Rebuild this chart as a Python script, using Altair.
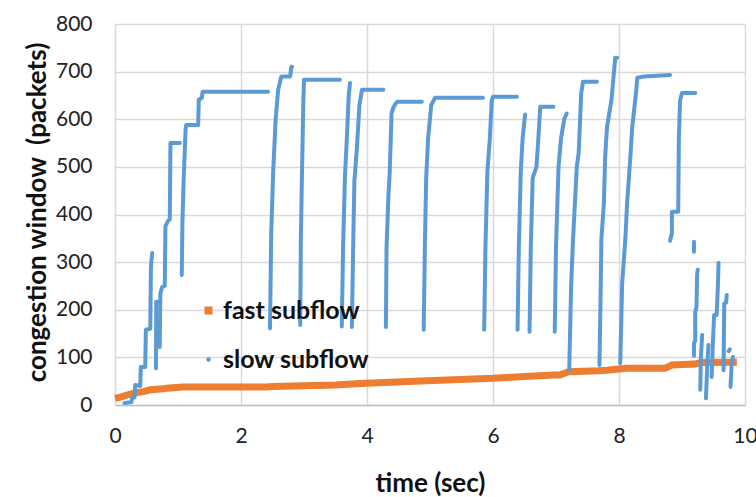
import altair as alt
import pandas as pd

# ---------------- data ----------------
fast_t = [0.0, 0.1, 0.19, 0.3, 0.45, 0.56, 0.77, 0.82, 1.08, 2.4, 2.5, 3.5, 3.89,
          4.95, 6.0, 6.5, 6.96, 7.06, 7.2, 7.67, 7.8, 8.12, 8.73, 8.84, 9.2, 9.3, 9.87]
fast_cwnd = [14, 17, 21, 25, 28, 32, 34, 35, 38, 38, 39, 42, 45,
             51, 56, 60, 63, 63, 70, 72, 73, 77, 77, 84, 86, 89, 90]

slow_t_segments = [
    [0.15, 0.26, 0.27, 0.31, 0.32, 0.40, 0.41, 0.48, 0.49, 0.56, 0.57, 0.59],
    [0.65, 0.655, 0.69],
    [0.71, 0.72, 0.75, 0.79, 0.80, 0.84, 0.87, 0.88, 1.03],
    [1.06, 1.07, 1.09, 1.12, 1.13, 1.32, 1.33, 1.38, 1.39, 2.43],
    [2.46, 2.48, 2.51, 2.55, 2.59, 2.64, 2.78, 2.80, 2.81],
    [2.94, 2.95, 2.97, 2.99, 3.0, 3.57],
    [3.60, 3.62, 3.65, 3.68, 3.71, 3.73],
    [3.76, 3.78, 3.80, 3.84, 3.88, 3.92, 4.26],
    [4.30, 4.31, 4.34, 4.36, 4.39, 4.42, 4.45, 4.48, 4.87],
    [4.90, 4.92, 4.94, 4.97, 5.02, 5.08, 5.84],
    [5.86, 5.88, 5.91, 5.95, 5.98, 6.0, 6.38],
    [6.39, 6.41, 6.44, 6.47, 6.51],
    [6.58, 6.60, 6.63, 6.69, 6.72, 6.75, 6.96],
    [6.98, 7.0, 7.04, 7.08, 7.13, 7.17],
    [7.21, 7.24, 7.27, 7.33, 7.36, 7.40, 7.43, 7.65],
    [7.69, 7.71, 7.72, 7.76, 7.78, 7.81, 7.88, 7.94, 7.97],
    [8.02, 8.05, 8.10, 8.13, 8.18, 8.21, 8.27, 8.29, 8.40, 8.81],
    [8.81, 8.84, 8.84, 8.94, 8.95, 8.97, 9.0, 9.21],
    [9.19, 9.19],
    [9.19, 9.19, 9.21, 9.21, 9.23, 9.24, 9.25],
    [9.29, 9.30, 9.32],
    [9.38, 9.40, 9.42],
    [9.47, 9.49, 9.51],
    [9.55, 9.57, 9.58],
    [9.66, 9.67, 9.70, 9.71],
    [9.74, 9.76],
    [9.77, 9.79, 9.81],
]
slow_cwnd_segments = [
    [4, 6, 14, 16, 42, 40, 80, 80, 158, 160, 290, 319],
    [77, 217, 217],
    [122, 235, 248, 250, 375, 386, 390, 550, 550],
    [273, 382, 473, 578, 588, 588, 641, 645, 658, 658],
    [161, 361, 487, 600, 662, 690, 690, 710, 710],
    [168, 350, 500, 640, 683, 683],
    [165, 330, 480, 560, 650, 676],
    [164, 330, 470, 540, 630, 662, 662],
    [164, 330, 440, 487, 613, 625, 632, 637, 637],
    [158, 346, 479, 560, 630, 645, 645],
    [158, 332, 487, 560, 640, 647, 647],
    [158, 332, 487, 560, 610],
    [154, 332, 477, 500, 560, 626, 626],
    [154, 332, 500, 560, 600, 612],
    [73, 250, 347, 500, 529, 655, 679, 679],
    [84, 248, 347, 424, 520, 584, 640, 729, 729],
    [88, 255, 347, 427, 520, 584, 655, 687, 690, 693],
    [345, 361, 406, 406, 560, 640, 655, 655],
    [322, 343],
    [103, 130, 135, 195, 205, 275, 284],
    [32, 100, 147],
    [14, 80, 126],
    [59, 130, 189],
    [189, 250, 298],
    [73, 213, 215, 231],
    [113, 117],
    [38, 90, 101],
]

series_names = ["fast subflow", "slow subflow"]
series_colors = ["#ED7D31", "#5B9BD5"]
x_ticks = [0, 2, 4, 6, 8, 10]
y_ticks = [0, 100, 200, 300, 400, 500, 600, 700, 800]

# ---------------- tables ----------------
fast_df = pd.DataFrame({"t": fast_t, "cwnd": fast_cwnd, "series": series_names[0]})
rows = []
for s, (ts, cs) in enumerate(zip(slow_t_segments, slow_cwnd_segments)):
    for i, (t, c) in enumerate(zip(ts, cs)):
        rows.append({"t": t, "cwnd": c, "seg": s, "idx": i, "series": series_names[1]})
slow_df = pd.DataFrame(rows)
all_df = pd.concat([fast_df, slow_df[["t", "cwnd", "series"]]], ignore_index=True)

FONT = "Lato"

x_enc = alt.X("t:Q", scale=alt.Scale(domain=[0, 10], nice=False),
              axis=alt.Axis(values=x_ticks, title="time (sec)", titleX=315, titleY=78,
                            titleBaseline="middle", titleAlign="center", labelFlush=False))
y_enc = alt.Y("cwnd:Q", scale=alt.Scale(domain=[0, 800], nice=False),
              axis=alt.Axis(values=y_ticks, title="congestion window \u00a0(packets)",
                            titleX=-78, titleY=188, titleAngle=-90,
                            titleBaseline="middle", titleAlign="center", labelFlush=False))

fast_layer = alt.Chart(fast_df).mark_line(
    color=series_colors[0], strokeWidth=7, strokeCap="butt"
).encode(x=x_enc, y=y_enc)

slow_layer = alt.Chart(slow_df).mark_line(
    color=series_colors[1], strokeWidth=4, strokeCap="round", strokeJoin="round"
).encode(x=x_enc, y=y_enc, detail="seg:N", order="idx:Q")


def legend_spec():
    return alt.Legend(title=None, orient="none", legendX=81, legendY=274,
                      labelFontSize=25, labelFontWeight="bold", labelFont=FONT,
                      labelColor="#111111", rowPadding=23, labelOffset=2,
                      symbolOpacity=1, padding=0)


legend_layer = alt.Chart(all_df).mark_point(filled=True, opacity=0).encode(
    x=x_enc, y=y_enc,
    color=alt.Color("series:N", scale=alt.Scale(domain=series_names, range=series_colors),
                    legend=legend_spec()),
    shape=alt.Shape("series:N", scale=alt.Scale(domain=series_names, range=["square", "circle"]),
                    legend=legend_spec()),
    size=alt.Size("series:N", scale=alt.Scale(domain=series_names, range=[64, 20]),
                  legend=legend_spec()),
)

chart = alt.layer(fast_layer, slow_layer, legend_layer).properties(
    width=630, height=381,
    autosize=alt.AutoSizeParams(type="none"),
    padding={"left": 115, "top": 24, "right": 11, "bottom": 92},
    background="white",
).configure_view(strokeWidth=0).configure_axis(
    grid=True, gridColor="#d9d9d9", gridWidth=1.5,
    domain=True, domainColor="#bfbfbf", domainWidth=1.5,
    ticks=False, tickSize=0,
    labelFont=FONT, labelFontSize=21, labelColor="#222222",
    titleFont=FONT, titleFontSize=26, titleFontWeight="bold", titleColor="#111111",
).configure_axisX(labelPadding=20).configure_axisY(labelPadding=23, domain=False)

chart.save("out.html", embed_options={"renderer": "svg", "actions": False})
